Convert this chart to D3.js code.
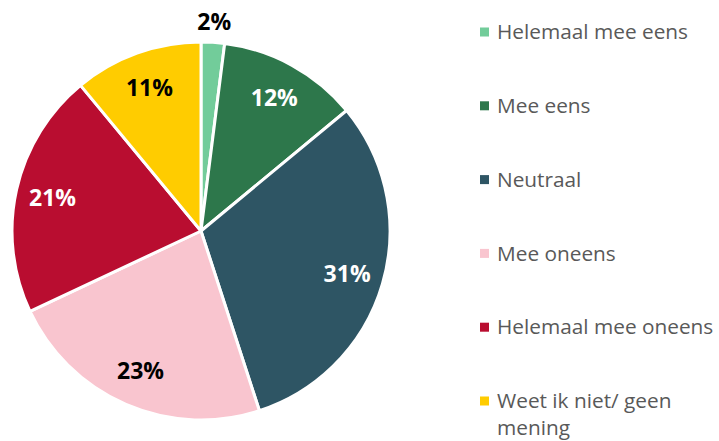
<!DOCTYPE html>
<html>
<head>
<meta charset="utf-8">
<script src="https://cdn.jsdelivr.net/npm/d3@7"></script>
<style>
  html, body { margin: 0; padding: 0; background: #fff; }
  svg { display: block; font-family: "Open Sans", sans-serif; }
</style>
</head>
<body>
<svg id="chart" width="719" height="441"></svg>
<script>
// categories, values and colours
const CATS = ["Helemaal mee eens", "Mee eens", "Neutraal", "Mee oneens", "Helemaal mee oneens", "Weet ik niet/ geen mening"];
const VALUES = [2, 12, 31, 23, 21, 11];
const COLORS = ["#72cc9a", "#2d774b", "#2e5564", "#f9c5cf", "#b90d30", "#ffcc00"];
const LABEL_INK = ["#000", "#fff", "#fff", "#000", "#fff", "#000"];
const LEGEND_LINES = [["Helemaal mee eens"], ["Mee eens"], ["Neutraal"], ["Mee oneens"], ["Helemaal mee oneens"], ["Weet ik niet/ geen", "mening"]];

const svg = d3.select("#chart");
const CX = 201, CY = 231, R = 189;

const pie = d3.pie().sort(null).value(d => d);
const arcs = pie(VALUES);
const arc = d3.arc().innerRadius(0).outerRadius(R);
const lblIn = d3.arc().innerRadius(R * 0.805).outerRadius(R * 0.805);
const lblOut = d3.arc().innerRadius(R * 1.11).outerRadius(R * 1.11);

const g = svg.append("g").attr("transform", `translate(${CX},${CY})`);
g.selectAll("path").data(arcs).join("path")
  .attr("d", arc)
  .attr("fill", (d, i) => COLORS[i])
  .attr("stroke", "#fff").attr("stroke-width", 3).attr("stroke-linejoin", "round");

// small slices get their label outside the pie
g.selectAll("text").data(arcs).join("text")
  .attr("transform", d => `translate(${(d.data < 5 ? lblOut : lblIn).centroid(d)})`)
  .attr("text-anchor", "middle").attr("dy", "0.36em")
  .attr("style", (d, i) => `font-weight:700;font-size:23px;fill:${d.data < 5 ? "#000" : LABEL_INK[i]}`)
  .text(d => d.data + "%");

// legend
const leg = svg.append("g").attr("transform", "translate(480,0)");
LEGEND_LINES.forEach((lines, i) => {
  const y = 32 + i * 73.8;
  leg.append("rect").attr("x", 0).attr("y", y - 4.5).attr("width", 9).attr("height", 9).attr("fill", COLORS[i]);
  lines.forEach((t, j) => {
    leg.append("text").attr("x", 17).attr("y", y + j * 26.5).attr("dy", "0.35em")
      .attr("style", "font-size:20.8px;fill:#595959").text(t);
  });
});
</script>
</body>
</html>
